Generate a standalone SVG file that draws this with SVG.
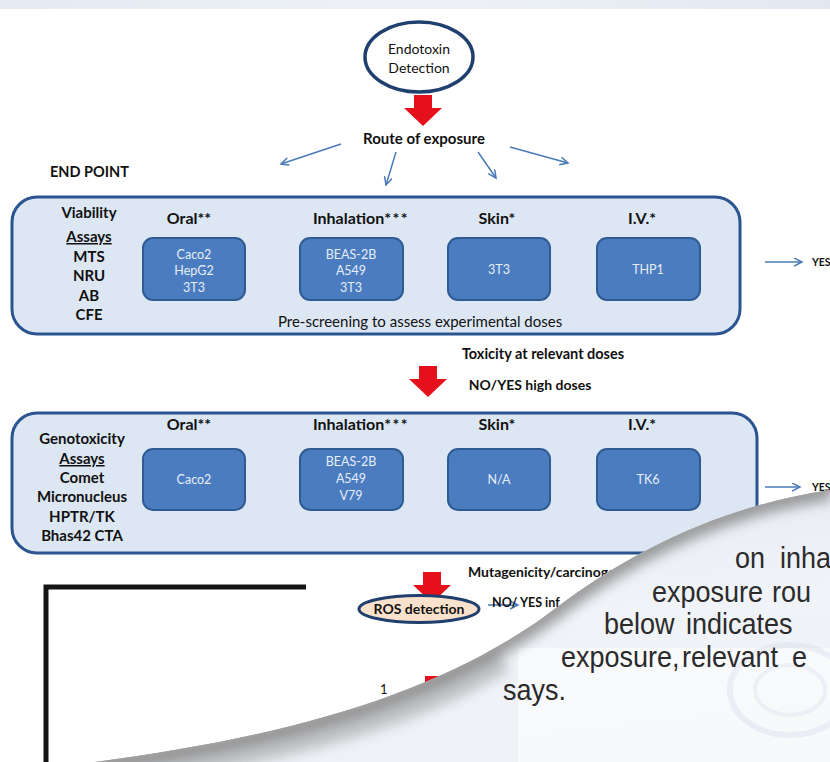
<svg xmlns="http://www.w3.org/2000/svg" width="830" height="762" viewBox="0 0 830 762">
<defs>
<style>
.t{font-family:Lato,"Liberation Sans",sans-serif;fill:#111;}
.b{font-weight:bold;}
.c{text-anchor:middle;}
.big{fill:#dde7f4;stroke:#2b5591;stroke-width:3;}
.cell{fill:#4b7cc0;stroke:#2f5b93;stroke-width:2;}
.ct{font-family:Lato,"Liberation Sans",sans-serif;fill:#e6eef9;font-size:12.5px;text-anchor:middle;}
.hd{font-size:16px;font-weight:bold;}
.lc{font-size:15px;font-weight:bold;text-anchor:middle;}
.conn{stroke:#4a7ab8;stroke-width:1.5;fill:none;marker-end:url(#ah);}
.red{fill:#e5101b;}
.pg{font-family:Arimo,"Liberation Sans",Arial,sans-serif;font-stretch:normal;font-size:27px;fill:#2b2b2b;}
</style>
<marker id="ah" markerWidth="10" markerHeight="10" refX="8" refY="4" orient="auto" markerUnits="userSpaceOnUse">
<path d="M0,0 L8,4 L0,8" fill="none" stroke="#4a7ab8" stroke-width="1.5"/>
</marker>
<path id="redArrow" d="M-9,0 H9 V13 H19 L0,31 L-19,13 H-9 Z"/>
<linearGradient id="topBand" x1="0" y1="0" x2="1" y2="0">
<stop offset="0" stop-color="#e4eaf2"/><stop offset="0.5" stop-color="#eef2f7"/><stop offset="1" stop-color="#e2e8f1"/>
</linearGradient>
<linearGradient id="flapFill" x1="0" y1="0" x2="0.3" y2="1">
<stop offset="0" stop-color="#e3e8f0"/><stop offset="0.6" stop-color="#f0f3f8"/><stop offset="1" stop-color="#eef1f6"/>
</linearGradient>
<clipPath id="flapClip"><path d="M95 762 C300 735 450 690 560 605 C640 545 730 505 830 490 L830 762 Z"/></clipPath>
<filter id="blur" x="-20%" y="-20%" width="140%" height="140%"><feGaussianBlur stdDeviation="6"/></filter>
<filter id="blur2" x="-20%" y="-20%" width="140%" height="140%"><feGaussianBlur stdDeviation="2"/></filter>
</defs>

<rect x="0" y="0" width="830" height="762" fill="#ffffff"/>
<rect x="0" y="0" width="830" height="9" fill="url(#topBand)"/>

<g id="connectors">
<line class="conn" x1="341" y1="144" x2="281" y2="164"/>
<line class="conn" x1="396" y1="152" x2="386" y2="185"/>
<line class="conn" x1="478" y1="152" x2="496" y2="178"/>
<line class="conn" x1="510" y1="147" x2="568" y2="163"/>
<line class="conn" x1="765" y1="262" x2="802" y2="262"/>
<line class="conn" x1="765" y1="487" x2="800" y2="487"/>
<line class="conn" x1="488" y1="605" x2="518" y2="605"/>
<use href="#redArrow" class="red" x="423" y="95"/>
<use href="#redArrow" class="red" x="428" y="366"/>
<use href="#redArrow" class="red" x="432" y="572"/>
<use href="#redArrow" class="red" x="434" y="676"/>
</g>

<g id="endotoxin">
<ellipse cx="419" cy="57" rx="54" ry="35" fill="#ffffff" stroke="#1f3f6e" stroke-width="3.5"/>
<text class="t c" x="419" y="54" font-size="14">Endotoxin</text>
<text class="t c" x="419" y="73" font-size="14">Detection</text>
</g>

<g id="route">
<text class="t b c" x="424" y="144" font-size="15">Route of exposure</text>
</g>
<g id="endpoint">
<text class="t b" x="50" y="177" font-size="14.5">END POINT</text>
</g>

<g id="viability-box">
<rect class="big" x="12" y="197" width="728" height="137" rx="25"/>
<text class="t lc" x="89" y="218">Viability</text>
<text class="t lc" x="89" y="242" text-decoration="underline">Assays</text>
<text class="t lc" x="89" y="262">MTS</text>
<text class="t lc" x="89" y="281">NRU</text>
<text class="t lc" x="89" y="301">AB</text>
<text class="t lc" x="89" y="320">CFE</text>
<text class="t hd c" x="189" y="224">Oral**</text>
<text class="t hd c" x="361" y="224">Inhalation<tspan letter-spacing="1.5">***</tspan></text>
<text class="t hd c" x="497" y="224">Skin*</text>
<text class="t hd c" x="642" y="224">I.V.*</text>
<text class="t c" x="420" y="327" font-size="15">Pre-screening to assess experimental doses</text>
</g>
<g id="v-oral">
<rect class="cell" x="143" y="238" width="102" height="62" rx="10"/>
<text class="ct" x="194" y="259">Caco2</text>
<text class="ct" x="194" y="275">HepG2</text>
<text class="ct" x="194" y="292">3T3</text>
</g>
<g id="v-inhal">
<rect class="cell" x="300" y="238" width="103" height="62" rx="10"/>
<text class="ct" x="351" y="259">BEAS-2B</text>
<text class="ct" x="351" y="275">A549</text>
<text class="ct" x="351" y="292">3T3</text>
</g>
<g id="v-skin">
<rect class="cell" x="448" y="238" width="102" height="62" rx="10"/>
<text class="ct" x="499" y="274">3T3</text>
</g>
<g id="v-iv">
<rect class="cell" x="597" y="238" width="103" height="62" rx="10"/>
<text class="ct" x="648" y="274">THP1</text>
</g>
<g id="yes1"><text class="t b" x="812" y="266" font-size="10.5">YES</text></g>

<g id="tox-label">
<text class="t b c" x="543" y="359" font-size="14.5">Toxicity at relevant doses</text>
<text class="t b c" x="530" y="390" font-size="14">NO/YES high doses</text>
</g>

<g id="geno-box">
<rect class="big" x="12" y="413" width="745" height="140" rx="25"/>
<text class="t lc" x="82" y="444">Genotoxicity</text>
<text class="t lc" x="82" y="464" text-decoration="underline">Assays</text>
<text class="t lc" x="82" y="483">Comet</text>
<text class="t lc" x="82" y="502">Micronucleus</text>
<text class="t lc" x="82" y="522">HPTR/TK</text>
<text class="t lc" x="82" y="541">Bhas42 CTA</text>
<text class="t hd c" x="189" y="430">Oral**</text>
<text class="t hd c" x="361" y="430">Inhalation<tspan letter-spacing="1.5">***</tspan></text>
<text class="t hd c" x="497" y="430">Skin*</text>
<text class="t hd c" x="642" y="430">I.V.*</text>
</g>
<g id="g-oral">
<rect class="cell" x="143" y="449" width="102" height="61" rx="10"/>
<text class="ct" x="194" y="484">Caco2</text>
</g>
<g id="g-inhal">
<rect class="cell" x="300" y="449" width="103" height="61" rx="10"/>
<text class="ct" x="351" y="466">BEAS-2B</text>
<text class="ct" x="351" y="483">A549</text>
<text class="ct" x="351" y="500">V79</text>
</g>
<g id="g-skin">
<rect class="cell" x="448" y="449" width="102" height="61" rx="10"/>
<text class="ct" x="499" y="484">N/A</text>
</g>
<g id="g-iv">
<rect class="cell" x="597" y="449" width="103" height="61" rx="10"/>
<text class="ct" x="648" y="484">TK6</text>
</g>
<g id="yes2"><text class="t b" x="812" y="491" font-size="10.5">YES</text></g>

<g id="muta">
<text class="t b" x="468" y="577" font-size="14">Mutagenicity/carcinogenicity</text>
<text class="t b" x="492" y="607" font-size="12.5">NO/ YES inf</text>
</g>

<g id="ros">
<ellipse cx="419" cy="609" rx="60" ry="13.5" fill="#fae1cb" stroke="#1f3f6e" stroke-width="3"/>
<text class="t b c" x="419" y="614" font-size="14">ROS detection</text>
</g>

<g id="step1"><text class="t" x="380" y="694" font-size="13">1</text></g>

<g id="frame">
<path d="M306 587 H46 V762" fill="none" stroke="#141414" stroke-width="5"/>
</g>

<g id="curl">
<path d="M95 762 C300 735 450 690 560 605 C640 545 730 505 830 490 L830 762 Z" fill="url(#flapFill)"/>
<g clip-path="url(#flapClip)">
<rect x="518" y="648" width="312" height="114" fill="#ffffff" opacity="0.6"/>
<ellipse cx="790" cy="690" rx="60" ry="45" fill="none" stroke="#c9d5e6" stroke-width="6" opacity="0.3"/>
<ellipse cx="790" cy="690" rx="35" ry="25" fill="none" stroke="#c9d5e6" stroke-width="4" opacity="0.25"/>
<path d="M95 762 C300 735 450 690 560 605 C640 545 730 505 830 490" fill="none" stroke="#808080" stroke-width="22" filter="url(#blur)" opacity="0.7"/>
<path d="M80 775 C300 745 420 705 500 655" fill="none" stroke="#8a8a8a" stroke-width="36" filter="url(#blur)" opacity="0.45"/>
<path d="M95 762 C300 735 450 690 560 605 C640 545 730 505 830 490" fill="none" stroke="#a0a0a0" stroke-width="5" filter="url(#blur2)"/>
</g>
<g transform="matrix(1,0,0,1.06,0,-34.08)"><text class="pg" x="735" y="568">on</text><text class="pg" x="780" y="568">inha</text></g>
<g transform="matrix(1,0,0,1.06,0,-36.12)"><text class="pg" x="652" y="602">exposure</text><text class="pg" x="772" y="602">rou</text></g>
<g transform="matrix(1,0,0,1.06,0,-38.04)"><text class="pg" x="604" y="634">below</text><text class="pg" x="686" y="634">indicates</text></g>
<g transform="matrix(1,0,0,1.06,0,-40.02)"><text class="pg" x="561" y="667">exposure,</text><text class="pg" x="682" y="667">relevant</text><text class="pg" x="792" y="667">e</text></g>
<g transform="matrix(1,0,0,1.06,0,-42)"><text class="pg" x="503" y="700">says.</text></g>
</g>
</svg>
